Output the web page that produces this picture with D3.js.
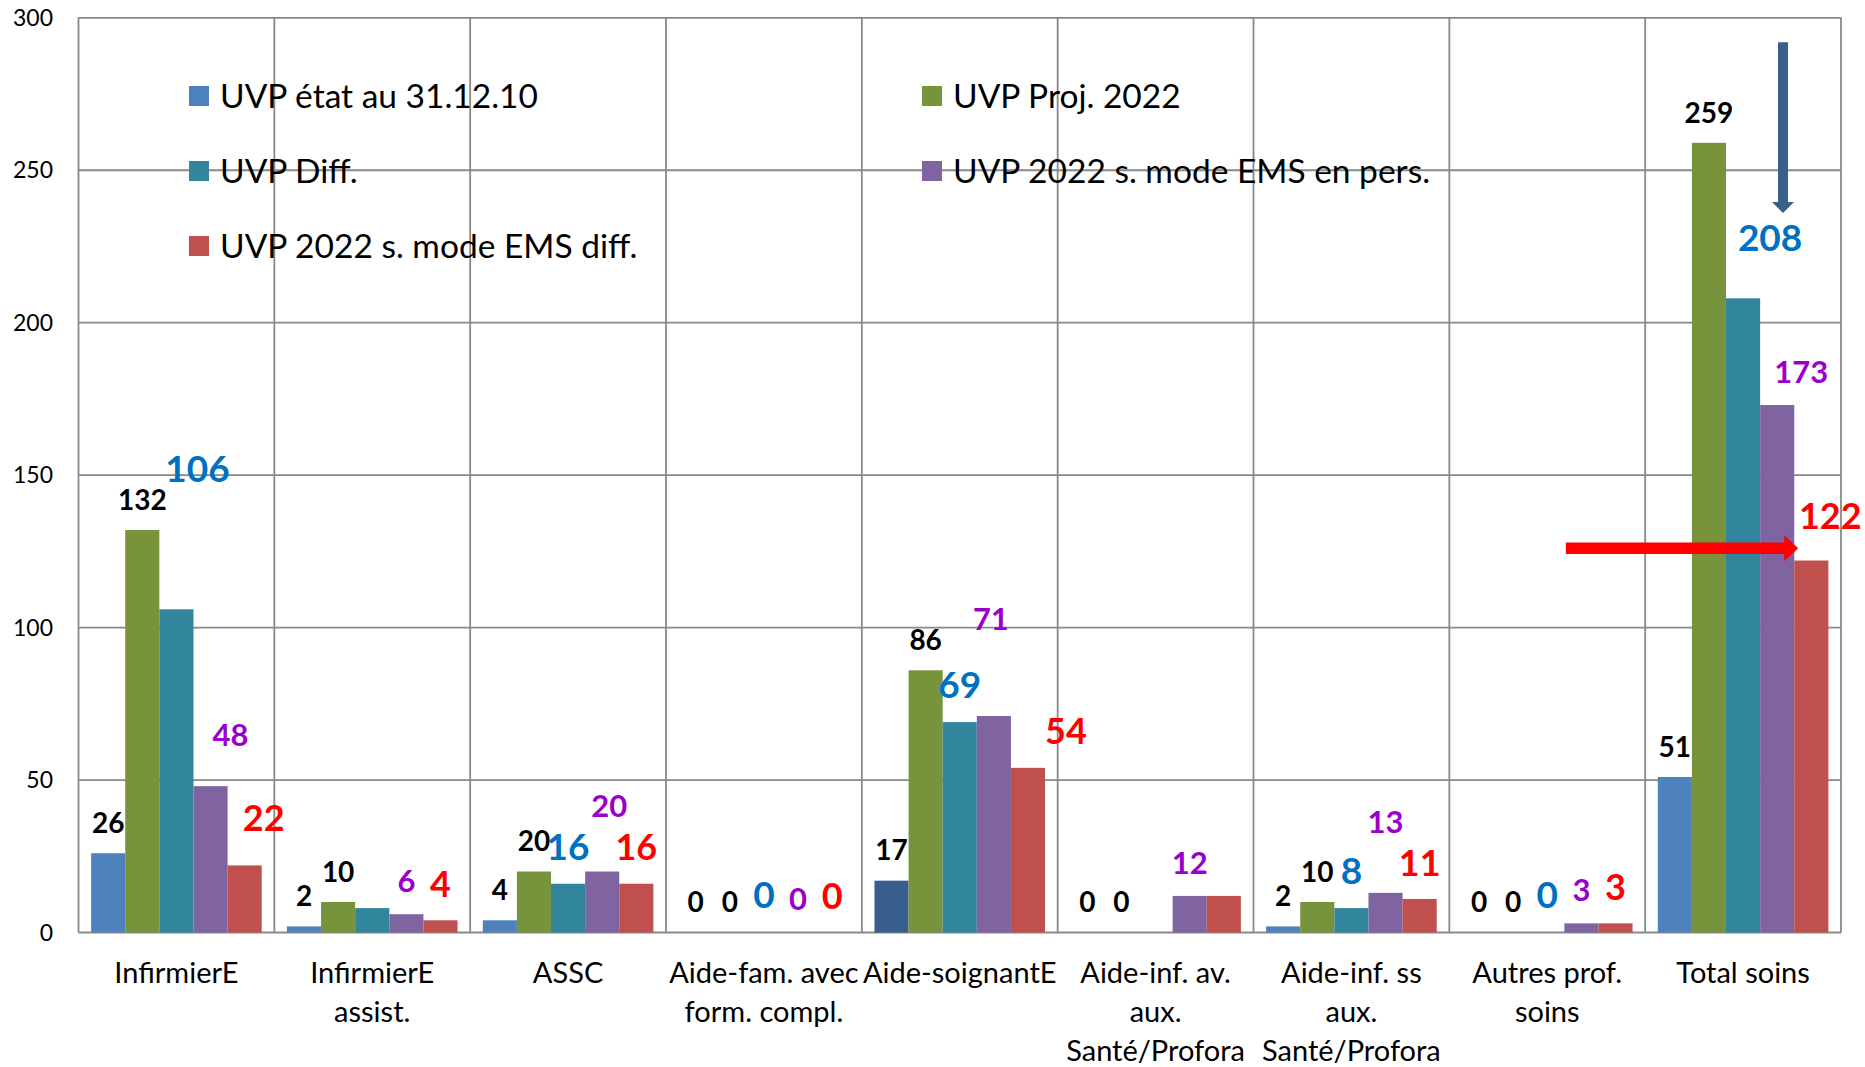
<!DOCTYPE html>
<html>
<head>
<meta charset="utf-8">
<script src="https://cdn.jsdelivr.net/npm/d3@7"></script>
<style>
  body { margin: 0; background: #fff; }
  svg { display: block; }
</style>
</head>
<body>
<svg id="chart" width="1865" height="1067"></svg>
<script>
// ---- data ----
const categories = [
  "InfirmierE",
  "InfirmierE\nassist.",
  "ASSC",
  "Aide-fam. avec\nform. compl.",
  "Aide-soignantE",
  "Aide-inf. av.\naux.\nSanté/Profora",
  "Aide-inf. ss\naux.\nSanté/Profora",
  "Autres prof.\nsoins",
  "Total soins"
];
const seriesNames = [
  "UVP état au 31.12.10",
  "UVP Proj. 2022",
  "UVP Diff.",
  "UVP 2022 s. mode EMS en pers.",
  "UVP 2022 s. mode EMS diff."
];
const etat2010 = [26, 2, 4, 0, 17, 0, 2, 0, 51];
const proj2022 = [132, 10, 20, 0, 86, 0, 10, 0, 259];
const diffUVP  = [106, 8, 16, 0, 69, 0, 8, 0, 208];
const emsPers  = [48, 6, 20, 0, 71, 12, 13, 3, 173];
const emsDiff  = [22, 4, 16, 0, 54, 12, 11, 3, 122];
const yTicks = [0, 50, 100, 150, 200, 250, 300];

const seriesValues = [etat2010, proj2022, diffUVP, emsPers, emsDiff];

// ---- styling ----
const barColors = ["#4F81BD", "#77933C", "#31859C", "#8064A2", "#C0504D"];
const darkBarColor = "#385E8E";          // highlighted Aide-soignantE bar of the first series
const labelColors = ["#000000", "#000000", "#0070C0", "#9900CC", "#FF0000"];
const labelSizes  = [28, 28, 37, 31, 36];
const labelGap    = [30, 30, 37, 33, 36];   // distance from bar top to label centre
// hand-placed labels: [category index, series index, dx, dy]
const labelNudges = [
  [0, 2, 21, -103], [0, 3, 20, -18], [0, 4, 19, -11],
  [2, 3, 7, -32],
  [4, 3, -3, -64], [4, 4, 38, 0],
  [6, 3, 0, -38],
  [8, 2, 27, -23], [8, 3, 24, 0], [8, 4, 19, -8]
];
const hiddenLabels = [[1, 2], [5, 2], [5, 4]];
const font = "Lato, 'Open Sans', sans-serif";
const gridColor = "#898989";

const plot = { left: 78.5, right: 1841, top: 17.8, bottom: 932.5 };

const svg = d3.select("#chart");

const x = d3.scaleBand()
  .domain(d3.range(categories.length))
  .range([plot.left, plot.right])
  .paddingInner(0).paddingOuter(0);

const xs = d3.scaleBand()
  .domain(d3.range(seriesNames.length))
  .range([0, x.bandwidth()])
  .paddingInner(0).paddingOuter(0.37);

const y = d3.scaleLinear().domain([0, 300]).range([plot.bottom, plot.top]);

// ---- grid ----
const grid = svg.append("g").attr("stroke", gridColor).attr("stroke-width", 1.8);
grid.selectAll("line.h").data(yTicks).join("line")
  .attr("x1", plot.left).attr("x2", plot.right)
  .attr("y1", d => y(d)).attr("y2", d => y(d));
grid.selectAll("line.v").data(d3.range(categories.length + 1)).join("line")
  .attr("x1", i => plot.left + i * x.step()).attr("x2", i => plot.left + i * x.step())
  .attr("y1", plot.top).attr("y2", plot.bottom);

// ---- y axis labels ----
svg.append("g").selectAll("text").data(yTicks).join("text")
  .attr("x", 53).attr("y", d => y(d)).attr("dy", "0.35em")
  .attr("text-anchor", "end")
  .attr("font-family", font).attr("font-size", 23).attr("fill", "#000")
  .text(d => d);

// ---- category labels ----
const catG = svg.append("g");
categories.forEach((c, i) => {
  const t = catG.append("text")
    .attr("x", x(i) + x.bandwidth() / 2).attr("y", 973)
    .attr("text-anchor", "middle")
    .attr("font-family", font).attr("font-size", 29).attr("fill", "#000");
  c.split("\n").forEach((line, k) => {
    t.append("tspan").attr("x", x(i) + x.bandwidth() / 2)
      .attr("dy", k === 0 ? "0.35em" : 39).text(line);
  });
});

// ---- bars ----
const flat = [];
seriesValues.forEach((vals, s) => vals.forEach((v, c) => flat.push({ s, c, v })));

svg.append("g").selectAll("rect").data(flat).join("rect")
  .attr("x", d => x(d.c) + xs(d.s))
  .attr("width", xs.bandwidth())
  .attr("y", d => y(d.v))
  .attr("height", d => y(0) - y(d.v))
  .attr("fill", d => (d.s === 0 && d.c === 4) ? darkBarColor : barColors[d.s]);

// ---- value labels ----
const isHidden = d => hiddenLabels.some(h => h[0] === d.c && h[1] === d.s);
const nudge = d => labelNudges.find(n => n[0] === d.c && n[1] === d.s) || [0, 0, 0, 0];
svg.append("g").selectAll("text").data(flat.filter(d => !isHidden(d))).join("text")
  .attr("x", d => x(d.c) + xs(d.s) + xs.bandwidth() / 2 + nudge(d)[2])
  .attr("y", d => y(d.v) - labelGap[d.s] + nudge(d)[3])
  .attr("dy", "0.35em")
  .attr("text-anchor", "middle")
  .attr("font-family", font).attr("font-weight", 700)
  .attr("font-size", d => labelSizes[d.s])
  .attr("fill", d => labelColors[d.s])
  .text(d => d.v);

// ---- arrows pointing at the totals ----
const totalIdx = categories.length - 1;
// blue arrow coming down toward the UVP Diff. total
{
  const ax = x(totalIdx) + xs(3) + xs.bandwidth() * 0.67;
  const y1 = y(292), y2 = y(236);
  const sw = 10, hw = 22, hl = 11;
  svg.append("path")
    .attr("d", `M${ax - sw / 2},${y1} L${ax + sw / 2},${y1} L${ax + sw / 2},${y2 - hl}
      L${ax + hw / 2},${y2 - hl} L${ax},${y2} L${ax - hw / 2},${y2 - hl} L${ax - sw / 2},${y2 - hl} Z`)
    .attr("fill", "#3A5F8B");
}
// red arrow pointing at the EMS diff. total
{
  const ay = y(126);
  const x1 = x(totalIdx - 1) + x.bandwidth() * 0.595;
  const x2 = x(totalIdx) + xs(4) + 4;
  const sw = 11.5, hw = 26, hl = 14;
  svg.append("path")
    .attr("d", `M${x1},${ay - sw / 2} L${x2 - hl},${ay - sw / 2} L${x2 - hl},${ay - hw / 2}
      L${x2},${ay} L${x2 - hl},${ay + hw / 2} L${x2 - hl},${ay + sw / 2} L${x1},${ay + sw / 2} Z`)
    .attr("fill", "#FF0000");
}

// ---- legend ----
const legendPos = [
  [189, 96], [922, 96],
  [189, 171], [922, 171],
  [189, 246]
];
const lg = svg.append("g");
seriesNames.forEach((name, s) => {
  const [lx, ly] = legendPos[s];
  lg.append("rect").attr("x", lx).attr("y", ly - 10).attr("width", 20).attr("height", 20)
    .attr("fill", barColors[s]);
  lg.append("text").attr("x", lx + 31).attr("y", ly).attr("dy", "0.35em")
    .attr("font-family", font).attr("font-size", 33.5).attr("fill", "#000")
    .text(name);
});
</script>
</body>
</html>
